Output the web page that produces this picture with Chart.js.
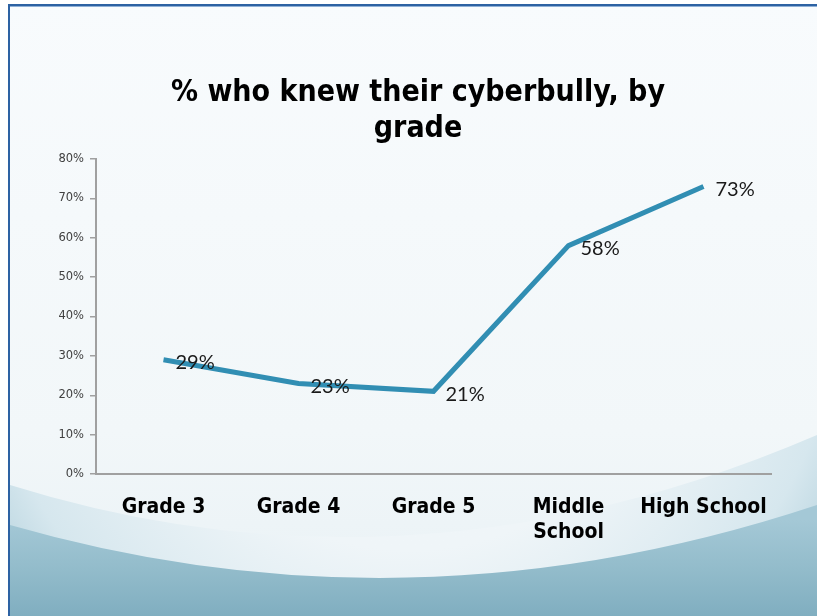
<!DOCTYPE html>
<html>
<head>
<meta charset="utf-8">
<script src="https://cdn.jsdelivr.net/npm/chart.js@4"></script>
<style>
  html, body { margin: 0; padding: 0; background: #ffffff; }
  canvas { display: block; }
</style>
</head>
<body>
<canvas id="myChart" width="817" height="616"></canvas>
<script>
// chart data
var categories = ['Grade 3', 'Grade 4', 'Grade 5', ['Middle', 'School'], 'High School'];
var knewBully = [29, 23, 21, 58, 73];
var titleLines = ['% who knew their cyberbully, by', 'grade'];
var yMax = 80;
var yStep = 10;

var headFont = '"DejaVu Sans Condensed", "Liberation Sans", sans-serif';

// slide background with the blue swoosh at the bottom
var slideBackground = {
	id: 'slideBackground',
	beforeDraw: function(chart) {
		var ctx = chart.ctx;
		var w = chart.width, h = chart.height;
		ctx.save();
		ctx.fillStyle = '#ffffff';
		ctx.fillRect(0, 0, w, h);

		var bg = ctx.createLinearGradient(0, 0, 0, h);
		bg.addColorStop(0, '#f8fbfd');
		bg.addColorStop(0.7, '#f2f7f9');
		bg.addColorStop(1, '#e8f1f5');
		ctx.fillStyle = bg;
		ctx.fillRect(10, 5, w - 10, h - 5);

		// soft bowl
		ctx.beginPath();
		ctx.moveTo(10, 485);
		ctx.quadraticCurveTo(410, 610, w, 435);
		ctx.lineTo(w, h);
		ctx.lineTo(10, h);
		ctx.closePath();
		var g1 = ctx.createRadialGradient(410, 280, 0, 410, 280, 540);
		g1.addColorStop(0, 'rgba(240,246,249,1)');
		g1.addColorStop(0.5, 'rgba(239,245,248,1)');
		g1.addColorStop(0.8, 'rgba(214,231,238,1)');
		g1.addColorStop(1, 'rgba(165,200,213,1)');
		ctx.fillStyle = g1;
		ctx.fill();

		// darker band
		ctx.beginPath();
		ctx.moveTo(10, 525);
		ctx.quadraticCurveTo(410, 640, w, 505);
		ctx.lineTo(w, h);
		ctx.lineTo(10, h);
		ctx.closePath();
		var g2 = ctx.createLinearGradient(0, 520, 0, h);
		g2.addColorStop(0, '#a4c8d6');
		g2.addColorStop(0.5, '#93bccb');
		g2.addColorStop(1, '#80aec0');
		ctx.fillStyle = g2;
		ctx.fill();

		// slide frame
		ctx.fillStyle = '#2d62a3';
		ctx.fillRect(8, 4, w - 8, 2);
		ctx.fillStyle = '#8fb0d6';
		ctx.fillRect(10, 6, w - 10, 1);
		ctx.fillStyle = '#2d62a3';
		ctx.fillRect(8, 4, 2, h - 4);
		ctx.restore();
	}
};

// the slide title sits a bit right of the plot's centre
var titleShift = {
	id: 'titleShift',
	afterLayout: function(chart) {
		chart.titleBlock.left = 65;
	}
};

// percent labels to the right of each point
var pointLabels = {
	id: 'pointLabels',
	afterDatasetsDraw: function(chart) {
		var ctx = chart.ctx;
		var meta = chart.getDatasetMeta(0);
		ctx.save();
		ctx.font = '20px Lato, "DejaVu Sans", sans-serif';
		ctx.fillStyle = '#1a1a1a';
		ctx.textAlign = 'left';
		ctx.textBaseline = 'middle';
		meta.data.forEach(function(pt, i) {
			ctx.fillText(knewBully[i] + '%', pt.x + 12, pt.y + 3);
		});
		ctx.restore();
	}
};

var ctx = document.getElementById('myChart').getContext('2d');
var myChart = new Chart(ctx, {
	type: 'line',
	data: {
		labels: categories,
		datasets: [{
			label: '% who knew their cyberbully',
			data: knewBully,
			borderColor: '#318eb3',
			borderWidth: 5,
			pointRadius: 0,
			tension: 0,
			fill: false
		}]
	},
	options: {
		responsive: false,
		animation: false,
		layout: {
			padding: { left: 0, right: 46, top: 0, bottom: 0 }
		},
		plugins: {
			legend: { display: false },
			tooltip: { enabled: false },
			title: {
				display: true,
				text: titleLines,
				color: '#000000',
				font: { family: headFont, size: 30, weight: 'bold', lineHeight: 1.2 },
				padding: { top: 75, bottom: 12 }
			}
		},
		scales: {
			x: {
				offset: true,
				grid: { display: false },
				border: { color: '#a0a0a0', width: 2 },
				ticks: {
					color: '#000000',
					font: { family: headFont, size: 21, weight: 'bold', lineHeight: 1.2 },
					padding: 13,
					maxRotation: 0,
					autoSkip: false
				},
				afterFit: function(scale) { scale.height = 142; }
			},
			y: {
				min: 0,
				max: yMax,
				grid: { drawOnChartArea: false, tickLength: 6, color: '#a0a0a0', lineWidth: 1.5 },
				border: { color: '#a0a0a0', width: 2 },
				ticks: {
					stepSize: yStep,
					color: '#404040',
					font: { family: '"DejaVu Sans", sans-serif', size: 11.5 },
					padding: 6,
					callback: function(v) { return v + '%'; }
				},
				afterFit: function(scale) { scale.width = 96; }
			}
		}
	},
	plugins: [slideBackground, titleShift, pointLabels]
});
</script>
</body>
</html>
